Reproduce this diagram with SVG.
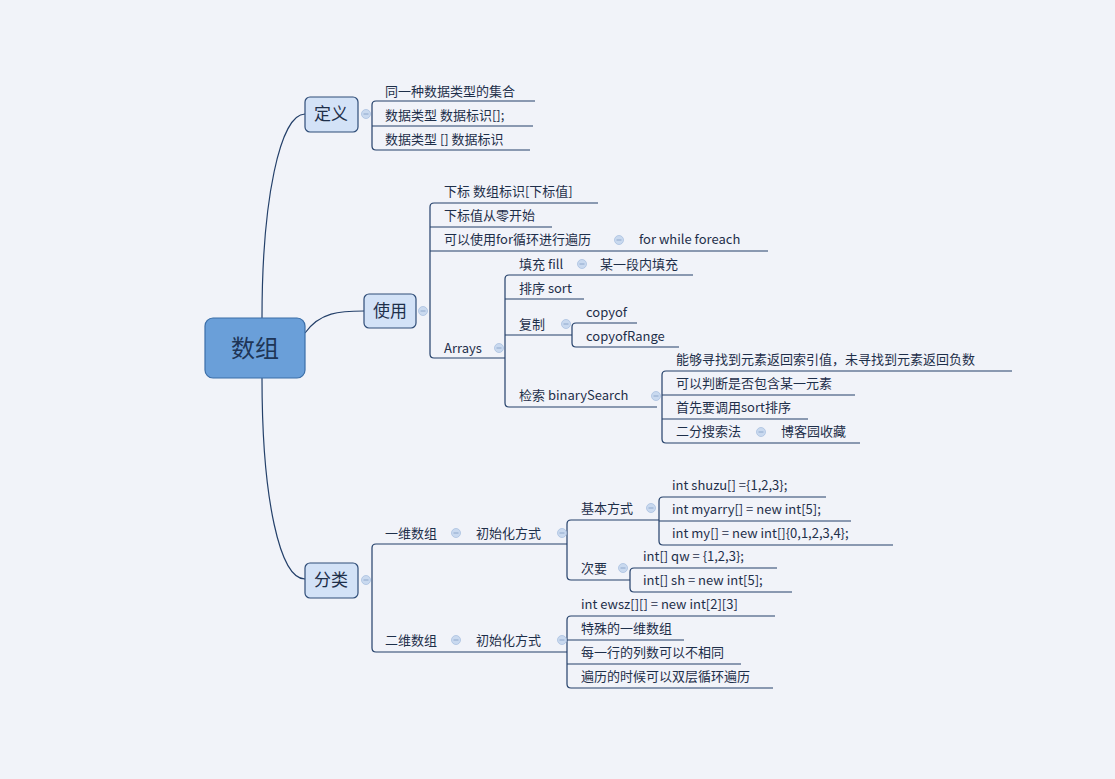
<svg xmlns="http://www.w3.org/2000/svg" width="1115" height="779" viewBox="0 0 1115 779">
<style>
text{font-family:"Noto Sans CJK SC","Noto Sans",sans-serif;font-size:13px;fill:#1e2f4a}
.l{fill:none;stroke:#24406a;stroke-width:1.2}
.c{fill:#c9d9ef;stroke:#aac0e0;stroke-width:0.8}
.m{stroke:#8fa8cc;stroke-width:1}
.box{fill:#d3e2f7;stroke:#2f4d78;stroke-width:1.2}
.bt{font-size:17px}
</style>
<defs>
<g id="col"><circle r="4.5" class="c"/><line x1="-2.5" x2="2.5" class="m"/></g>
</defs>
<rect width="1115" height="779" fill="#f1f3f9"/>
<g id="connectors">
<path class="l" d="M262,318 C262,200 280,114 305,114"/>
<path class="l" d="M305,333 C320,312 340,311 364,311"/>
<path class="l" d="M262,378 C262,500 280,579 305,579"/>
<!-- 定义 -->
<path class="l" d="M535,101 H376 Q372,101 372,105 V146 Q372,150 376,150 H530 M372,126 H533"/>
<!-- 使用 -->
<path class="l" d="M598,203 H434 Q430,203 430,207 V354 Q430,358 434,358 H505 M430,227 H552 M430,251 H768"/>
<!-- Arrays -->
<path class="l" d="M693,275 H509 Q505,275 505,279 V403 Q505,407 509,407 H657 M505,299 H584 M505,335 H572"/>
<path class="l" d="M637,323 H576 Q572,323 572,327 V343 Q572,347 576,347 H679"/>
<path class="l" d="M1012,371 H666 Q662,371 662,375 V439 Q662,443 666,443 H860 M662,395 H855 M662,419 H808"/>
<!-- 分类 -->
<path class="l" d="M567,544 H376 Q372,544 372,548 V648 Q372,652 376,652 H567"/>
<path class="l" d="M659,520 H571 Q567,520 567,524 V576 Q567,580 571,580 H630"/>
<path class="l" d="M826,497 H663 Q659,497 659,501 V541 Q659,545 663,545 H893 M659,521 H851"/>
<path class="l" d="M777,568 H634 Q630,568 630,572 V588 Q630,592 634,592 H792"/>
<path class="l" d="M775,616 H571 Q567,616 567,620 V684 Q567,688 571,688 H773 M567,640 H684 M567,664 H741"/>
</g>
<g id="root"><rect x="205" y="318" width="100" height="60" rx="8" fill="#6a9fd9" stroke="#3b6ea8" stroke-width="1.2"/><text x="255" y="357" text-anchor="middle" style="font-size:24px;fill:#1e3556">数组</text></g>
<g id="n-dingyi"><rect class="box" x="305" y="97" width="53" height="35" rx="5"/><text class="bt" x="331" y="120" text-anchor="middle">定义</text><use href="#col" x="366" y="114"/></g>
<g id="n-def1"><text x="385" y="96">同一种数据类型的集合</text></g>
<g id="n-def2"><text x="385" y="120">数据类型 数据标识[];</text></g>
<g id="n-def3"><text x="385" y="144">数据类型 []  数据标识</text></g>
<g id="n-shiyong"><rect class="box" x="364" y="294" width="52" height="34" rx="5"/><text class="bt" x="390" y="317" text-anchor="middle">使用</text><use href="#col" x="423" y="311"/></g>
<g id="n-u1"><text x="444" y="196">下标 数组标识[下标值]</text></g>
<g id="n-u2"><text x="444" y="220">下标值从零开始</text></g>
<g id="n-u3"><text x="444" y="244">可以使用for循环进行遍历</text><use href="#col" x="619" y="240"/><text x="639" y="244">for  while  foreach</text></g>
<g id="n-arrays"><text x="444" y="353">Arrays</text><use href="#col" x="499" y="348"/></g>
<g id="n-fill"><text x="519" y="269">填充 fill</text><use href="#col" x="582" y="264"/><text x="600" y="269">某一段内填充</text></g>
<g id="n-sort"><text x="519" y="293">排序 sort</text></g>
<g id="n-copy"><text x="519" y="329">复制</text><use href="#col" x="566" y="324"/></g>
<g id="n-copyof"><text x="586" y="317">copyof</text></g>
<g id="n-copyofRange"><text x="586" y="341">copyofRange</text></g>
<g id="n-search"><text x="519" y="400">检索  binarySearch</text><use href="#col" x="656" y="396"/></g>
<g id="n-s1"><text x="676" y="364">能够寻找到元素返回索引值，未寻找到元素返回负数</text></g>
<g id="n-s2"><text x="676" y="388">可以判断是否包含某一元素</text></g>
<g id="n-s3"><text x="676" y="412">首先要调用sort排序</text></g>
<g id="n-s4"><text x="676" y="436">二分搜索法</text><use href="#col" x="761" y="432"/><text x="781" y="436">博客园收藏</text></g>
<g id="n-fenlei"><rect class="box" x="305" y="563" width="53" height="35" rx="5"/><text class="bt" x="331" y="586" text-anchor="middle">分类</text><use href="#col" x="366" y="580"/></g>
<g id="n-1d"><text x="385" y="538">一维数组</text><use href="#col" x="456" y="533"/><text x="476" y="538">初始化方式</text><use href="#col" x="562" y="533"/></g>
<g id="n-basic"><text x="581" y="513">基本方式</text><use href="#col" x="651" y="508"/></g>
<g id="n-b1"><text x="672" y="490">int shuzu[] ={1,2,3};</text></g>
<g id="n-b2"><text x="672" y="514">int myarry[] = new int[5];</text></g>
<g id="n-b3"><text x="672" y="538">int my[] = new int[]{0,1,2,3,4};</text></g>
<g id="n-minor"><text x="581" y="573">次要</text><use href="#col" x="623" y="568"/></g>
<g id="n-m1"><text x="643" y="561">int[] qw = {1,2,3};</text></g>
<g id="n-m2"><text x="643" y="585">int[] sh = new int[5];</text></g>
<g id="n-2d"><text x="385" y="645">二维数组</text><use href="#col" x="456" y="640"/><text x="476" y="645">初始化方式</text><use href="#col" x="562" y="640"/></g>
<g id="n-t1"><text x="581" y="609">int ewsz[][] = new int[2][3]</text></g>
<g id="n-t2"><text x="581" y="633">特殊的一维数组</text></g>
<g id="n-t3"><text x="581" y="657">每一行的列数可以不相同</text></g>
<g id="n-t4"><text x="581" y="681">遍历的时候可以双层循环遍历</text></g>
</svg>
